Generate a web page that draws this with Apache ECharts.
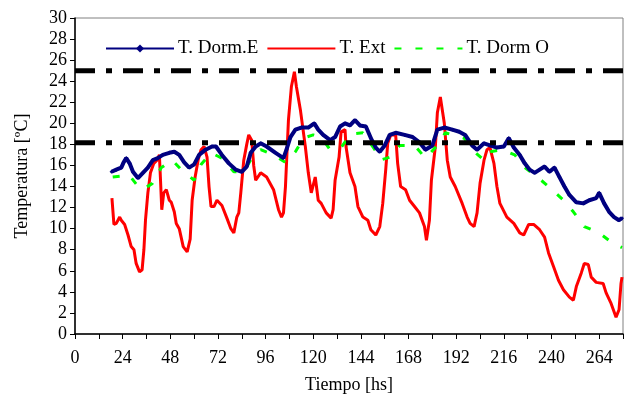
<!DOCTYPE html>
<html>
<head>
    <meta charset="utf-8">
    <script src="https://cdn.jsdelivr.net/npm/echarts@6/dist/echarts.min.js"></script>
    <style>
        html, body { margin: 0; padding: 0; background: #fff; }
        #main { width: 626px; height: 406px; }
    </style>
</head>
<body>
<div id="main"></div>
<script>
    // [hora, temperatura]
    var tDormE = [
        [18.4,15.4],[20.8,15.6],[23.3,15.8],[24.5,16.3],[25.8,16.7],[27.5,16.2],[29.2,15.4],[31.7,14.8],
        [34.2,15.3],[36.7,15.8],[39.2,16.5],[41.7,16.7],[44.2,17.0],[47.5,17.2],[50,17.3],[52.5,17.0],
        [55,16.3],[57.5,15.8],[60,16.1],[62.5,17.0],[65.8,17.5],[69,17.8],[71,17.8],[74,17.0],
        [77.5,16.2],[81,15.6],[84,15.4],[86.5,15.9],[88.5,17.2],[91,17.8],[93.5,18.1],[96.5,17.8],
        [101,17.2],[105,16.7],[106.5,17.5],[108.5,18.7],[111,19.4],[114,19.6],[117.5,19.6],[120.5,20.0],
        [122.5,19.4],[125,18.9],[128.5,18.4],[131,18.7],[133.5,19.7],[136,20.0],[138.5,19.8],[141,20.3],
        [143.5,19.8],[146.5,19.7],[149,18.6],[151.5,17.7],[153.5,17.3],[156,17.9],[158.5,18.9],[161.5,19.1],
        [166,18.9],[170,18.7],[173.5,18.2],[176.5,17.5],[180,17.9],[182.5,19.4],[186,19.6],[190,19.4],
        [193.5,19.2],[196.5,18.9],[200,17.9],[202.5,17.5],[206,18.1],[209,17.9],[212.5,17.7],[216,17.8],
        [218.5,18.6],[221,17.7],[224,17.0],[226.5,16.2],[229,15.6],[231.5,15.3],[234,15.6],[236.5,15.9],
        [239,15.4],[241.5,15.8],[244,14.9],[246.5,14.0],[249,13.2],[252.5,12.5],[256,12.4],[259,12.7],
        [262.5,12.9],[264,13.4],[266.5,12.4],[269,11.6],[271.5,11.1],[274,10.8],[275.5,11.0]
    ];

    var tExt = [
        [18.6,12.9],[19.6,10.4],[20.8,10.5],[22.5,11.1],[23.3,10.8],[25,10.4],[26.7,9.4],[28.3,8.3],
        [29.7,8.0],[30.8,6.7],[32.5,5.9],[33.8,6.1],[34.7,8.0],[35.5,10.8],[36.7,13.4],[38,15.3],
        [39.7,16.2],[41.3,16.5],[42.5,17.0],[43,14.9],[43.7,11.8],[44.7,13.4],[46,13.7],[47.5,12.7],
        [48.5,12.5],[50,11.6],[51,10.5],[52.5,10.0],[54.5,8.3],[56.5,7.8],[58,9.0],[59,12.7],
        [60.5,14.9],[62,16.5],[63.5,17.5],[65,17.8],[66.5,16.8],[67.5,14.0],[68.5,12.1],[70,12.1],
        [71.5,12.7],[74,12.2],[76.5,11.0],[78.5,10.0],[80,9.6],[81.5,11.1],[82.5,11.5],[83.5,13.4],
        [85,16.5],[86.5,18.0],[87.5,18.9],[89,18.4],[90,16.0],[91,14.6],[93.5,15.3],[96.5,14.9],
        [100,13.7],[102.5,11.8],[104,11.1],[105,11.5],[106,14.0],[107.5,20.3],[109,23.5],[110.5,24.9],
        [111.5,23.5],[113.5,21.3],[116,17.8],[117.5,15.3],[119,13.4],[121,14.9],[122.5,12.7],[124,12.4],
        [126.5,11.5],[129,11.0],[130,11.8],[131,14.6],[133,16.8],[134,19.2],[136,19.4],[136.5,17.8],
        [138.5,15.3],[141,14.0],[142.5,12.1],[145,11.1],[147.5,10.8],[149,9.9],[151.5,9.4],[153.5,10.2],
        [155,12.4],[156.5,15.6],[157.5,18.1],[159,18.9],[161.5,18.9],[162.5,16.2],[164,14.0],[166.5,13.7],
        [168.5,12.7],[171,12.1],[173.5,11.5],[176,10.2],[177,8.9],[178.5,10.8],[179.5,14.6],[181.5,17.8],
        [182.5,21.0],[184,22.5],[185,22.5],[186,20.0],[187.5,16.5],[189,14.9],[191.5,14.0],[195,12.4],
        [197.5,11.1],[199,10.5],[201,10.2],[202.5,11.5],[204,14.3],[206,16.5],[207.5,17.5],[209,17.7],
        [211,16.2],[212.5,14.0],[214,12.4],[217.5,11.1],[221,10.5],[224,9.6],[226,9.4],[228.5,10.4],
        [231,10.4],[234,9.9],[236.5,9.2],[238.5,7.7],[241,6.4],[243.5,5.1],[246,4.2],[249,3.5],
        [251,3.2],[252.5,4.5],[255,5.8],[256.5,6.7],[258.5,6.6],[260,5.4],[262.5,4.9],[266,4.8],
        [267.5,3.9],[270,2.9],[272.5,1.6],[274,2.3],[275,4.8],[275.5,5.4]
    ];

    var tDormO = [
        [19,14.9],[23.5,15.0],[27.5,15.1],[28.5,14.8],[31,14.2],[34,13.7],[39,14.3],[43.5,15.8],
        [49,16.5],[53.5,15.6],[60,14.6],[63.5,16.1],[68.5,17.2],[74,16.7],[80,15.4],[85,15.4],
        [89,16.7],[93.5,17.5],[100,17.0],[106,16.3],[111,17.3],[115,18.6],[120,18.9],[124,18.7],
        [128.5,17.5],[134,17.7],[139,19.0],[145,19.1],[151,17.5],[153.5,16.5],[159,16.8],[163.5,17.9],
        [171,17.9],[176.5,16.7],[182.5,17.9],[186.5,19.1],[196,18.6],[200,17.5],[206,16.5],[209,17.3],
        [215,17.5],[221.5,17.0],[226.5,15.8],[233.5,14.8],[238.5,14.0],[246,12.7],[251,11.6],[256.5,10.2],
        [264,9.6],[271,8.6],[275.5,8.2]
    ];

    // limites de confort
    var limites = [25, 18.15];

    var xMin = 0, xMax = 276;
    var serif = 'Liberation Serif';

    var series = [
        {
            name: 'T. Dorm.E',
            type: 'line',
            data: tDormE,
            symbol: 'diamond',
            symbolSize: 4,
            showSymbol: true,
            itemStyle: { color: '#000080' },
            lineStyle: { color: '#000080', width: 4 },
            z: 3
        },
        {
            name: 'T. Ext',
            type: 'line',
            data: tExt,
            showSymbol: false,
            itemStyle: { color: '#ff0000', opacity: 0 },
            lineStyle: { color: '#ff0000', width: 3 },
            z: 2
        },
        {
            name: 'T. Dorm O',
            type: 'line',
            data: tDormO,
            showSymbol: false,
            itemStyle: { color: '#00ff00', opacity: 0 },
            lineStyle: { color: '#00ff00', width: 3, type: [7, 14] },
            z: 2
        }
    ];

    for (var i = 0; i < limites.length; i++) {
        series.push({
            name: 'lim' + i,
            type: 'line',
            data: [[xMin, limites[i]], [xMax, limites[i]]],
            symbol: 'none',
            silent: true,
            lineStyle: { color: '#000', width: 5, type: [20, 11, 6, 11] },
            z: 5
        });
    }

    var chart = echarts.init(document.getElementById('main'), null, { renderer: 'canvas' });
    chart.setOption({
        animation: false,
        backgroundColor: '#fff',
        grid: {
            left: 75, right: 0, top: 18, bottom: 72,
            show: true, borderColor: '#808080', borderWidth: 1
        },
        legend: {
            data: ['T. Dorm.E', 'T. Ext', 'T. Dorm O'],
            left: 100, top: 34,
            itemWidth: 68, itemHeight: 10, itemGap: 8,
            textStyle: { fontFamily: serif, fontSize: 19, color: '#000', padding: [0, 0, 0, -1] }
        },
        xAxis: {
            type: 'value',
            min: xMin, max: xMax, interval: 12,
            name: 'Tiempo [hs]',
            nameLocation: 'middle',
            nameGap: 42,
            nameTextStyle: { fontFamily: serif, fontSize: 18, color: '#000' },
            axisLine: { lineStyle: { color: '#000', width: 1.5 } },
            axisTick: { inside: false, length: 5, lineStyle: { color: '#000' } },
            splitLine: { show: false },
            axisLabel: {
                fontFamily: serif, fontSize: 18, color: '#000', margin: 15,
                formatter: function (v) { return v % 24 === 0 ? v : ''; }
            }
        },
        yAxis: {
            type: 'value',
            min: 0, max: 30, interval: 2,
            name: 'Temperatura [ºC]',
            nameLocation: 'middle',
            nameGap: 44,
            nameTextStyle: { fontFamily: serif, fontSize: 18, color: '#000' },
            axisLine: { show: true, lineStyle: { color: '#000', width: 1.5 } },
            axisTick: { show: true, inside: false, length: 5, lineStyle: { color: '#000' } },
            splitLine: { show: false },
            axisLabel: { fontFamily: serif, fontSize: 18, color: '#000', margin: 8 }
        },
        series: series
    });
</script>
</body>
</html>
